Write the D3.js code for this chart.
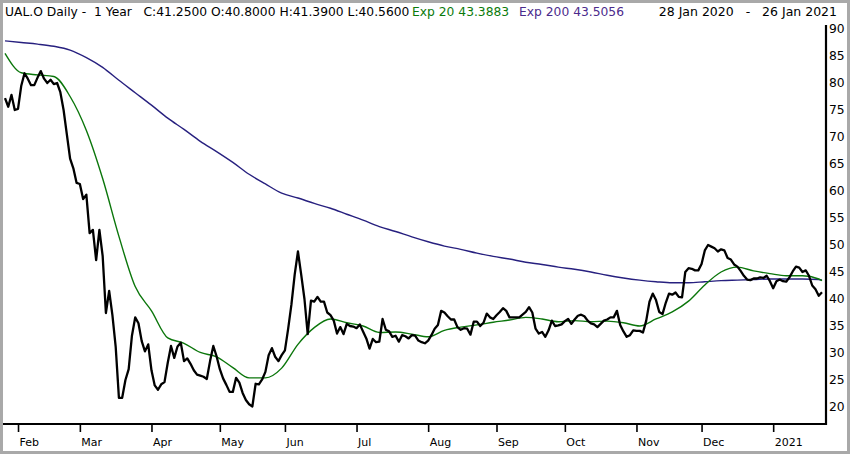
<!DOCTYPE html>
<html>
<head>
<meta charset="utf-8">
<title>UAL.O Daily - 1 Year</title>
<style>
  body { margin: 0; background: #fff; }
  text { font-family: "DejaVu Sans", sans-serif; }
</style>
</head>
<body>
<div id="chart"></div>
<script src="https://d3js.org/d3.v7.min.js"></script>
<script>
// session calendar: weekdays 28 Jan 2020 - 26 Jan 2021 minus exchange holidays
const holidays = ['2020-02-17', '2020-04-10', '2020-05-25', '2020-07-03', '2020-09-07',
                  '2020-11-26', '2020-12-25', '2021-01-01', '2021-01-18'];

// daily closes, one per session
const closes = [
  77.2, 75.6, 77.8, 75.0, 75.2, 79.5, 81.8, 80.8, 79.6, 79.6,
  81.0, 82.2, 80.8, 80.0, 80.6, 79.8, 80.0, 78.3, 75.0, 70.5,
  66.0, 64.2, 61.5, 61.3, 58.5, 59.3, 52.2, 52.8, 47.2, 52.8,
  48.0, 37.4, 41.5, 37.0, 31.2, 21.7, 21.7, 25.0, 27.0, 33.2,
  36.6, 35.5, 32.2, 30.3, 31.6, 26.8, 24.0, 23.2, 24.2, 24.6,
  28.2, 31.3, 29.1, 31.2, 31.9, 28.5, 29.0, 28.0, 26.8, 26.0,
  25.8, 25.6, 25.2, 28.5, 31.3, 29.4, 27.0, 25.3, 24.1, 22.8,
  22.8, 25.4, 24.5, 22.6, 21.3, 20.5, 20.1, 24.3, 24.2, 25.1,
  26.5, 29.6, 30.9, 29.3, 28.5, 29.6, 30.5, 34.5, 39.0, 44.5,
  48.8, 44.5, 40.0, 33.5, 39.7, 39.5, 40.4, 39.5, 39.5, 37.5,
  37.0, 36.0, 33.6, 34.8, 33.5, 35.4, 35.0, 34.9, 34.6, 35.3,
  34.0, 32.7, 30.8, 32.6, 32.0, 32.1, 36.3, 34.3, 34.0, 33.0,
  33.2, 32.1, 33.3, 33.1, 32.7, 33.3, 33.2, 32.3, 32.0, 31.8,
  32.3, 33.3, 34.5, 35.2, 37.8, 37.5, 36.8, 36.2, 36.2, 34.8,
  34.3, 34.6, 34.5, 33.4, 35.8, 35.8, 35.0, 35.6, 37.3, 36.6,
  36.3, 37.0, 37.6, 38.3, 37.8, 36.6, 36.6, 36.6, 36.6, 37.1,
  37.6, 38.5, 37.5, 34.5, 33.6, 33.9, 33.0, 34.2, 36.0, 35.0,
  35.1, 35.3, 35.9, 36.3, 35.4, 36.2, 36.9, 37.1, 36.8, 36.0,
  35.5, 35.3, 34.8, 35.4, 36.0, 36.2, 36.6, 36.6, 37.8, 35.2,
  34.0, 33.0, 33.3, 34.2, 34.1, 34.1, 33.8, 36.0, 39.5, 41.0,
  39.8, 37.6, 37.2, 39.3, 41.0, 40.8, 41.2, 40.4, 40.3, 45.0,
  45.7, 45.6, 45.3, 45.3, 46.5, 49.0, 50.0, 49.7, 49.4, 48.8,
  49.2, 49.0, 47.6, 47.3, 46.4, 46.0, 45.2, 44.3, 43.6, 43.5,
  43.8, 43.8, 44.0, 43.9, 44.3, 43.3, 42.0, 43.3, 43.6, 43.3,
  43.2, 44.0, 45.1, 46.0, 45.8, 45.0, 45.3, 44.3, 42.5, 41.8,
  40.6, 41.25
];

// moving averages, read every 5th session, plus the last session
const emaStep = 5;
const ema20 = [
  85.5, 81.9, 81.5, 81.2, 77.5, 71.2, 62.3, 51.6, 42.3, 37.8,
  32.8, 31.8, 30.1, 29.3, 27.3, 25.4, 25.4, 27.2, 31.6, 34.7,
  36.3, 35.6, 35.0, 33.8, 33.9, 33.5, 33.0, 34.2, 34.8, 35.2,
  35.7, 36.1, 36.6, 36.3, 35.8, 36.0, 35.8, 35.9, 35.6, 35.0,
  36.3, 37.6, 39.6, 42.6, 45.0, 45.9, 45.2, 44.7, 44.3, 44.3,
  43.7
];
const ema200 = [
  87.8, 87.5, 87.2, 86.8, 86.1, 84.7, 82.9, 80.5, 78.2, 75.9,
  73.5, 71.4, 69.2, 67.3, 65.3, 63.1, 61.3, 59.6, 58.7, 57.7,
  56.8, 55.7, 54.6, 53.4, 52.5, 51.5, 50.6, 49.8, 49.2, 48.5,
  47.9, 47.4, 46.8, 46.4, 45.9, 45.5, 45.0, 44.4, 43.9, 43.5,
  43.2, 43.0, 43.0, 43.2, 43.4, 43.5, 43.6, 43.7, 43.7, 43.7,
  43.6
];
const lastBar = {c: 41.25, o: 40.80, h: 41.39, l: 40.56, ema20: 43.3883, ema200: 43.5056};
const yTicks = [20, 25, 30, 35, 40, 45, 50, 55, 60, 65, 70, 75, 80, 85, 90];

const W = 850, H = 454;
const plot = {left: 5, right: 822, top: 29, bottom: 407, axisX: 826, axisY: 424};

const fmtDay = d3.utcFormat('%Y-%m-%d');
const days = d3.utcDays(new Date(Date.UTC(2020, 0, 28)), new Date(Date.UTC(2021, 0, 27)))
  .filter(d => d.getUTCDay() % 6 !== 0 && !holidays.includes(fmtDay(d)));

const x = d3.scaleLinear().domain([0, days.length - 1]).range([plot.left, plot.right]);
const y = d3.scaleLinear().domain([20, 90]).range([plot.bottom, plot.top]);

const svg = d3.select('#chart').append('svg')
  .attr('width', W).attr('height', H);

svg.append('rect').attr('width', W).attr('height', H).attr('fill', '#fff');

// header
const head = svg.append('text').attr('y', 16).attr('font-size', 12.3);
head.append('tspan').attr('x', 5).attr('fill', '#000')
  .text(`UAL.O Daily -\u00a0\u00a01 Year\u00a0\u00a0\u00a0C:${lastBar.c.toFixed(4)} O:${lastBar.o.toFixed(4)} H:${lastBar.h.toFixed(4)} L:${lastBar.l.toFixed(4)}`);
head.append('tspan').attr('x', 412).attr('fill', '#0a7a0a')
  .text(`Exp 20 ${lastBar.ema20.toFixed(4)}`);
head.append('tspan').attr('x', 519).attr('fill', '#4b2a8c')
  .text(`Exp 200 ${lastBar.ema200.toFixed(4)}`);
const fmtRange = d3.utcFormat('%d %b %Y');
svg.append('text').attr('x', 837).attr('y', 16).attr('font-size', 12.5)
  .attr('text-anchor', 'end').attr('fill', '#000')
  .text(`${fmtRange(days[0])}\u00a0\u00a0\u00a0-\u00a0\u00a0\u00a0${fmtRange(days[days.length - 1])}`);

// month ticks at the first session of each month
const monthIdx = d3.range(1, days.length).filter(i => days[i].getUTCMonth() !== days[i - 1].getUTCMonth());

const xAxis = svg.append('g')
  .attr('transform', `translate(0, ${plot.axisY})`)
  .call(d3.axisBottom(x)
    .tickValues(monthIdx)
    .tickSize(8)
    .tickSizeOuter(0)
    .tickFormat(i => days[i].getUTCMonth() === 0 ? d3.utcFormat('%Y')(days[i]) : d3.utcFormat('%b')(days[i])));
xAxis.select('.domain').remove();
xAxis.selectAll('.tick line').attr('stroke', '#000').attr('stroke-width', 1.6);
xAxis.selectAll('.tick text')
  .attr('text-anchor', 'start').attr('x', 1).attr('y', 14)
  .attr('font-size', 11).attr('fill', '#000').attr('font-family', '"DejaVu Sans", sans-serif');

const yAxis = svg.append('g')
  .attr('transform', `translate(${plot.axisX}, 0)`)
  .call(d3.axisRight(y).tickValues(yTicks).tickSize(0).tickPadding(3));
yAxis.select('.domain').remove();
yAxis.selectAll('.tick text')
  .attr('font-size', 12.3).attr('fill', '#000').attr('font-family', '"DejaVu Sans", sans-serif');

// axis frame lines
svg.append('path')
  .attr('d', `M${plot.axisX},25V${plot.axisY}H3`)
  .attr('fill', 'none').attr('stroke', '#000').attr('stroke-width', 2.2);

const emaPoints = vals => vals.map((v, k) => [k * emaStep, v]);

const smooth = d3.line().x(d => x(d[0])).y(d => y(d[1])).curve(d3.curveMonotoneX);

svg.append('path')
  .datum(emaPoints(ema200).concat([[days.length - 1, lastBar.ema200]]))
  .attr('d', smooth)
  .attr('fill', 'none').attr('stroke', '#27207f').attr('stroke-width', 1.4);

svg.append('path')
  .datum(emaPoints(ema20).concat([[days.length - 1, lastBar.ema20]]))
  .attr('d', smooth)
  .attr('fill', 'none').attr('stroke', '#0b760b').attr('stroke-width', 1.4);

svg.append('path')
  .datum(closes)
  .attr('d', d3.line().x((d, i) => x(i)).y(d => y(d)))
  .attr('fill', 'none').attr('stroke', '#000').attr('stroke-width', 2.3)
  .attr('stroke-linejoin', 'round');

// outer frame
svg.append('rect')
  .attr('x', 1.5).attr('y', 1.5).attr('width', W - 3).attr('height', H - 3)
  .attr('fill', 'none').attr('stroke', '#a9a9a9').attr('stroke-width', 3);
</script>
</body>
</html>
